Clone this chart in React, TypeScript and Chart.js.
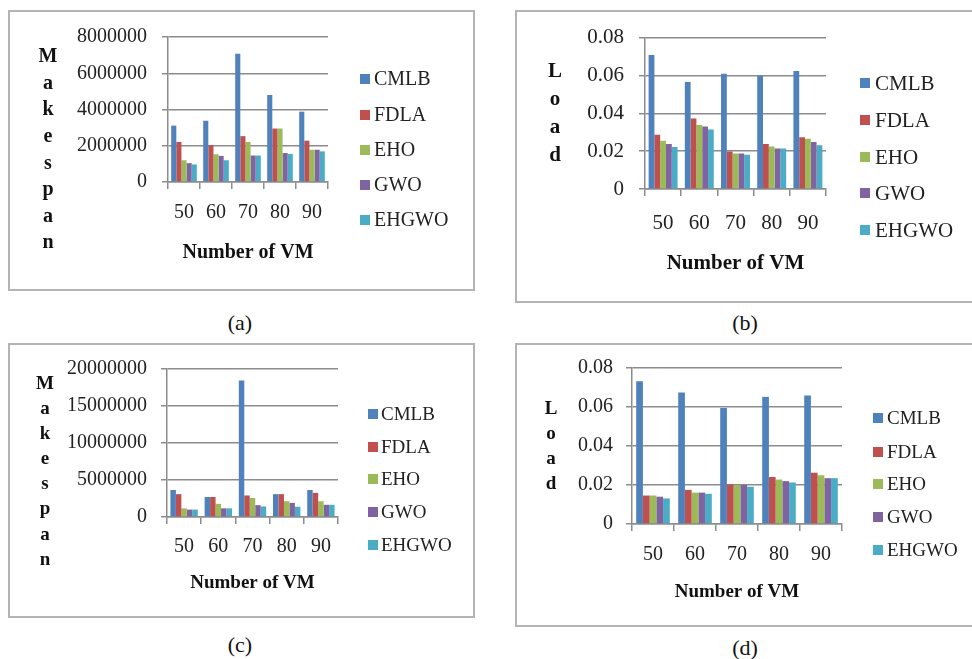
import React, { useEffect, useRef } from 'react';
import { Chart, registerables } from 'chart.js';

Chart.register(...registerables);

// ---------- data ----------
const vmLabels = ['50', '60', '70', '80', '90'];
const algorithms = ['CMLB', 'FDLA', 'EHO', 'GWO', 'EHGWO'];
const algoColors = ['#4F81BD', '#C0504D', '#9BBB59', '#8064A2', '#4BACC6'];

// (a) Makespan  — rows: CMLB, FDLA, EHO, GWO, EHGWO
const makespanA_CMLB = [3110000, 3380000, 7070000, 4800000, 3880000];
const makespanA_FDLA = [2210000, 2030000, 2530000, 2950000, 2280000];
const makespanA_EHO = [1200000, 1530000, 2210000, 2950000, 1780000];
const makespanA_GWO = [1040000, 1440000, 1460000, 1600000, 1780000];
const makespanA_EHGWO = [970000, 1200000, 1460000, 1550000, 1690000];

// (b) Load
const loadB_CMLB = [0.0708, 0.0566, 0.0609, 0.0598, 0.0624];
const loadB_FDLA = [0.0287, 0.0373, 0.0198, 0.0238, 0.0274];
const loadB_EHO = [0.0255, 0.0338, 0.0188, 0.0224, 0.0265];
const loadB_GWO = [0.0238, 0.033, 0.0188, 0.0214, 0.0248];
const loadB_EHGWO = [0.0222, 0.0315, 0.0181, 0.0214, 0.0231];

// (c) Makespan
const makespanC_CMLB = [3650000, 2700000, 18430000, 3090000, 3650000];
const makespanC_FDLA = [3090000, 2700000, 2910000, 3090000, 3260000];
const makespanC_EHO = [1170000, 1780000, 2570000, 2130000, 2130000];
const makespanC_GWO = [1000000, 1170000, 1600000, 1910000, 1650000];
const makespanC_EHGWO = [1000000, 1170000, 1430000, 1390000, 1650000];

// (d) Load
const loadD_CMLB = [0.0732, 0.0674, 0.0595, 0.0652, 0.0659];
const loadD_FDLA = [0.0146, 0.0175, 0.0203, 0.0241, 0.0263];
const loadD_EHO = [0.0146, 0.0161, 0.02, 0.0228, 0.025];
const loadD_GWO = [0.014, 0.0161, 0.02, 0.022, 0.0235];
const loadD_EHGWO = [0.0131, 0.0155, 0.0191, 0.0213, 0.0235];

const makespanTicksA = ['0', '2000000', '4000000', '6000000', '8000000'];
const makespanTicksC = ['0', '5000000', '10000000', '15000000', '20000000'];
const loadTicks = ['0', '0.02', '0.04', '0.06', '0.08'];

const xTitle = 'Number of VM';

// ---------- styling ----------
const serif = '"Liberation Serif", "Times New Roman", serif';
const gridColor = '#8c8c8c';
const textColor = '#222222';

type Box = { x: number; y: number; w: number; h: number };
type Plot = { l: number; t: number; r: number; b: number };

type PanelCfg = {
  box: Box;
  plot: Plot;
  series: number[][];
  yMax: number;
  yStep: number;
  yTickLabels: string[];
  yTitle: string;
  tickSize: number;
  labelRight: number;
  xLabelY: number;
  titleY: number;
  titleSize: number;
  legendBoxX: number;
  legendTextX: number;
  legendYs: number[];
  legendSize: number;
  letterX: number;
  letterY0: number;
  letterStep: number;
  letterSize: number;
  caption: string;
  captionX: number;
  captionY: number;
};

function Panel(p: PanelCfg) {
  const ref = useRef<HTMLCanvasElement>(null);
  useEffect(() => {
    const canvas = ref.current!;
    const tickLen = 7;
    const yTickLen = 6;
    const xLabelPad = p.xLabelY - p.plot.b - tickLen - 0.6 * p.tickSize;
    const titleLH = 1.2 * p.titleSize;
    const xAxisBottom = p.titleY + titleLH / 2;
    const xAxisH = xAxisBottom - p.plot.b;
    const yAxisW = p.plot.l - p.box.x;
    const yPad = p.plot.l - p.labelRight - yTickLen;

    const overlay = {
      id: 'overlay',
      afterDraw(chart: any) {
        const ctx = chart.ctx;
        ctx.save();
        ctx.textBaseline = 'middle';
        ctx.font = `${p.legendSize}px ${serif}`;
        chart.data.datasets.forEach((ds: any, i: number) => {
          const y = p.legendYs[i] - p.box.y;
          ctx.fillStyle = ds.backgroundColor;
          ctx.fillRect(p.legendBoxX - p.box.x, y - 5, 10, 10);
          ctx.fillStyle = textColor;
          ctx.textAlign = 'left';
          ctx.fillText(ds.label, p.legendTextX - p.box.x, y + 1);
        });
        ctx.font = `bold ${p.letterSize}px ${serif}`;
        ctx.textAlign = 'center';
        ctx.fillStyle = '#111';
        Array.from(p.yTitle).forEach((ch, i) => {
          ctx.fillText(ch, p.letterX - p.box.x, p.letterY0 - p.box.y + i * p.letterStep);
        });
        ctx.restore();
      },
    };

    const chart = new Chart(canvas, {
      type: 'bar',
      data: {
        labels: vmLabels,
        datasets: algorithms.map((name, i) => ({
          label: name,
          data: p.series[i],
          backgroundColor: algoColors[i],
          borderWidth: 0,
          categoryPercentage: 0.8,
          barPercentage: 1.0,
        })),
      },
      options: {
        animation: false,
        responsive: false,
        devicePixelRatio: 1,
        layout: {
          padding: {
            left: 0,
            top: p.plot.t - p.box.y,
            right: p.box.x + p.box.w - p.plot.r,
            bottom: p.box.y + p.box.h - xAxisBottom,
          },
        },
        plugins: { legend: { display: false }, tooltip: { enabled: false } },
        scales: {
          x: {
            offset: true,
            grid: {
              offset: true,
              drawOnChartArea: false,
              drawTicks: true,
              tickLength: tickLen,
              color: gridColor,
              lineWidth: 1.5,
            },
            border: { color: gridColor, width: 1.5 },
            ticks: {
              font: { family: serif, size: p.tickSize },
              color: textColor,
              padding: xLabelPad,
              maxRotation: 0,
            },
            title: {
              display: true,
              text: xTitle,
              font: { family: serif, size: p.titleSize, weight: 'bold' },
              color: '#111',
              padding: 0,
            },
            afterFit: (s: any) => {
              s.height = xAxisH;
            },
          },
          y: {
            min: 0,
            max: p.yMax,
            ticks: {
              stepSize: p.yStep,
              font: { family: serif, size: p.tickSize },
              color: textColor,
              padding: yPad,
              callback: (_v: any, i: number) => p.yTickLabels[i],
            },
            grid: { color: gridColor, lineWidth: 1.5, tickLength: yTickLen },
            border: { color: gridColor, width: 1.5 },
            afterFit: (s: any) => {
              s.width = yAxisW;
            },
          },
        },
      } as any,
      plugins: [overlay as any],
    });
    return () => chart.destroy();
  }, []);

  return (
    <>
      <canvas
        ref={ref}
        width={p.box.w}
        height={p.box.h}
        style={{ position: 'absolute', left: p.box.x, top: p.box.y, width: p.box.w, height: p.box.h }}
      />
      <div
        style={{
          position: 'absolute',
          left: p.box.x,
          top: p.box.y,
          width: p.box.w,
          height: p.box.h,
          boxSizing: 'border-box',
          border: '2px solid #b4b4b4',
          pointerEvents: 'none',
        }}
      />
      <div
        style={{
          position: 'absolute',
          left: p.captionX - 40,
          top: p.captionY - 14,
          width: 80,
          height: 28,
          lineHeight: '28px',
          textAlign: 'center',
          fontFamily: serif,
          fontSize: 22,
          color: '#111',
        }}
      >
        {p.caption}
      </div>
    </>
  );
}

const panels: PanelCfg[] = [
  {
    box: { x: 8, y: 10, w: 467, h: 281 },
    plot: { l: 168, t: 33, r: 328, b: 182 },
    series: [makespanA_CMLB, makespanA_FDLA, makespanA_EHO, makespanA_GWO, makespanA_EHGWO],
    yMax: 8000000,
    yStep: 2000000,
    yTickLabels: makespanTicksA,
    yTitle: 'Makespan',
    tickSize: 20,
    labelRight: 147,
    xLabelY: 213,
    titleY: 253,
    titleSize: 20,
    legendBoxX: 360,
    legendTextX: 374,
    legendYs: [79, 115, 150, 185, 220],
    legendSize: 20,
    letterX: 48,
    letterY0: 57,
    letterStep: 26.6,
    letterSize: 20,
    caption: '(a)',
    captionX: 240,
    captionY: 323,
  },
  {
    box: { x: 515, y: 10, w: 475, h: 293 },
    plot: { l: 645, t: 33, r: 826, b: 189 },
    series: [loadB_CMLB, loadB_FDLA, loadB_EHO, loadB_GWO, loadB_EHGWO],
    yMax: 0.08,
    yStep: 0.02,
    yTickLabels: loadTicks,
    yTitle: 'Load',
    tickSize: 21,
    labelRight: 624,
    xLabelY: 223,
    titleY: 264,
    titleSize: 21,
    legendBoxX: 860,
    legendTextX: 875,
    legendYs: [83, 120, 157, 193, 230],
    legendSize: 21,
    letterX: 555,
    letterY0: 72,
    letterStep: 27.8,
    letterSize: 21,
    caption: '(b)',
    captionX: 745,
    captionY: 323,
  },
  {
    box: { x: 8, y: 343, w: 467, h: 275 },
    plot: { l: 167, t: 363, r: 338, b: 517 },
    series: [makespanC_CMLB, makespanC_FDLA, makespanC_EHO, makespanC_GWO, makespanC_EHGWO],
    yMax: 20000000,
    yStep: 5000000,
    yTickLabels: makespanTicksC,
    yTitle: 'Makespan',
    tickSize: 20,
    labelRight: 147,
    xLabelY: 547,
    titleY: 583,
    titleSize: 19,
    legendBoxX: 368,
    legendTextX: 381,
    legendYs: [414, 447, 479, 512, 545],
    legendSize: 19,
    letterX: 45,
    letterY0: 384,
    letterStep: 25.1,
    letterSize: 19,
    caption: '(c)',
    captionX: 240,
    captionY: 645,
  },
  {
    box: { x: 515, y: 343, w: 475, h: 284 },
    plot: { l: 632, t: 364, r: 842, b: 524 },
    series: [loadD_CMLB, loadD_FDLA, loadD_EHO, loadD_GWO, loadD_EHGWO],
    yMax: 0.08,
    yStep: 0.02,
    yTickLabels: loadTicks,
    yTitle: 'Load',
    tickSize: 20,
    labelRight: 613,
    xLabelY: 555,
    titleY: 592,
    titleSize: 19,
    legendBoxX: 873,
    legendTextX: 887,
    legendYs: [418, 452, 484, 517, 550],
    legendSize: 19,
    letterX: 551,
    letterY0: 409,
    letterStep: 25,
    letterSize: 19,
    caption: '(d)',
    captionX: 745,
    captionY: 648,
  },
];

export default function App() {
  return (
    <div
      style={{
        position: 'fixed',
        left: 0,
        top: 0,
        width: 972,
        height: 659,
        overflow: 'hidden',
        background: '#ffffff',
      }}
    >
      {panels.map((p, i) => (
        <Panel key={i} {...p} />
      ))}
    </div>
  );
}
